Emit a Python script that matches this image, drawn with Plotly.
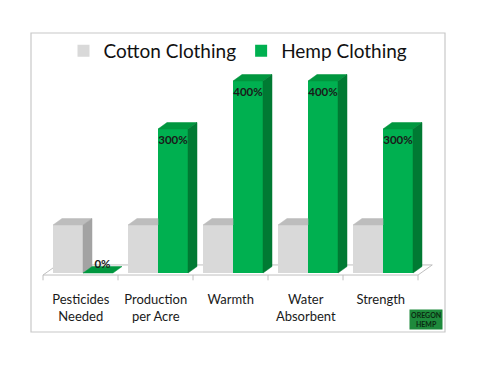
import plotly.graph_objects as go

categories = ["Pesticides<br>Needed", "Production<br>per Acre", "Warmth", "Water<br>Absorbent", "Strength"]
cotton = [100, 100, 100, 100, 100]
hemp = [0, 300, 400, 400, 300]
hemp_labels = ["0%", "300%", "400%", "400%", "300%"]
series_names = ["Cotton Clothing", "Hemp Clothing"]

# styling
FONT = "Lato, 'Open Sans', sans-serif"
C_FRONT, C_TOP, C_SIDE = "#d9d9d9", "#bdbdbd", "#a3a3a3"
H_FRONT, H_TOP, H_SIDE = "#00b050", "#00973f", "#007a33"
BW = 0.4          # bar width (category units)
DX, DY = 0.12, 13.5  # 3D depth of bars (x units, y units)
FDX, FDY = 0.19, 21.0  # floor depth
FY0 = -4.2        # floor front edge

n = len(categories)
xs = list(range(n))

fig = go.Figure()
fig.add_trace(go.Bar(x=xs, y=cotton, width=BW, offset=-BW, name=series_names[0],
                     marker=dict(color=C_FRONT, line=dict(width=0))))
fig.add_trace(go.Bar(x=xs, y=hemp, width=BW, offset=0, name=series_names[1],
                     marker=dict(color=H_FRONT, line=dict(width=0))))

def poly_trace(polys, color):
    px, py = [], []
    for p in polys:
        for (a, b) in p:
            px.append(a); py.append(b)
        px.append(p[0][0]); py.append(p[0][1])
        px.append(None); py.append(None)
    return go.Scatter(x=px, y=py, mode="lines", fill="toself", fillcolor=color,
                      line=dict(color=color, width=0.5), hoverinfo="skip", showlegend=False)

c_tops, c_sides, h_tops, h_sides = [], [], [], []
for i in xs:
    v, h = cotton[i], hemp[i]
    cl, cr = i - BW, i
    if h >= v + DY:
        c_tops.append([(cl, v), (cr, v), (cr, v + DY), (cl + DX, v + DY)])
    else:
        c_tops.append([(cl, v), (cr, v), (cr + DX, v + DY), (cl + DX, v + DY)])
        hb = max(h, 0)
        c_sides.append([(cr, hb), (cr + DX, hb + DY), (cr + DX, v + DY), (cr, v)])
    hl, hr = i, i + BW
    h_tops.append([(hl, h), (hr, h), (hr + DX, h + DY), (hl + DX, h + DY)])
    if h > 0:
        h_sides.append([(hr, 0), (hr + DX, DY), (hr + DX, h + DY), (hr, h)])

fig.add_trace(poly_trace(c_tops, C_TOP))
if c_sides:
    fig.add_trace(poly_trace(c_sides, C_SIDE))
fig.add_trace(poly_trace(h_tops, H_TOP))
fig.add_trace(poly_trace(h_sides, H_SIDE))

# value labels (invisible markers give the text its offset from the bar top)
lx = [i + BW / 2 + (DX / 2 if hemp[i] == 0 else 0) for i in xs]
fig.add_trace(go.Scatter(x=lx, y=hemp, mode="markers+text", text=hemp_labels,
                         marker=dict(size=[2 if v == 0 else 8 for v in hemp], opacity=0),
                         textposition=["top center" if v == 0 else "bottom center" for v in hemp],
                         textfont=dict(family=FONT, size=11.5, color="#1a1a1a", weight="bold"),
                         hoverinfo="skip", showlegend=False, cliponaxis=False))

# floor (drawn below traces)
fl, fr = -0.5 - 0.033, n - 0.5 - 0.033
shapes = [dict(type="path", xref="x", yref="y", layer="below",
               path=f"M{fl},{FY0} L{fr},{FY0} L{fr + FDX},{FY0 + FDY} L{fl + FDX},{FY0 + FDY} Z",
               fillcolor="white", line=dict(color="#bfbfbf", width=1))]
for k in range(n + 1):
    xb = fl + k
    shapes.append(dict(type="line", xref="x", yref="y", x0=xb, x1=xb, y0=FY0, y1=FY0 - 11,
                       line=dict(color="#bfbfbf", width=1), layer="below"))
# chart border
shapes.append(dict(type="rect", xref="paper", yref="paper", x0=0, x1=1, y0=-0.1818, y1=1,
                   line=dict(color="#c8c8c8", width=1.2), fillcolor="rgba(0,0,0,0)", layer="below"))

fig.update_layout(
    width=473, height=363,
    margin=dict(l=23, r=36, t=25, b=85),
    paper_bgcolor="white", plot_bgcolor="rgba(0,0,0,0)",
    barmode="overlay",
    shapes=shapes,
    font=dict(family=FONT, color="#1a1a1a"),
    showlegend=True,
    legend=dict(orientation="h", x=0.5, xanchor="center", y=0.929, yanchor="middle",
                font=dict(size=19, family=FONT, color="#111111"), bgcolor="rgba(0,0,0,0)",
                itemclick=False, tracegroupgap=0),
    xaxis=dict(range=[-0.6933, 4.8267], tickmode="array", tickvals=[i - 0.03 for i in xs],
               ticktext=categories, showgrid=False, zeroline=False, showline=False,
               ticks="", ticklabelstandoff=4,
               tickfont=dict(size=13, family=FONT, color="#1a1a1a"), fixedrange=True),
    yaxis=dict(range=[-27.08, 500], visible=False, showgrid=False, zeroline=False, fixedrange=True),
    annotations=[dict(xref="paper", yref="paper", x=0.995, y=-0.175, xanchor="right", yanchor="bottom",
                      text="<b>OREGON<br>HEMP</b>", showarrow=False, bgcolor="#1e8a3c",
                      font=dict(size=7, color="#0b2a12", family=FONT), borderpad=1)],
)

fig.write_html("out.html")
